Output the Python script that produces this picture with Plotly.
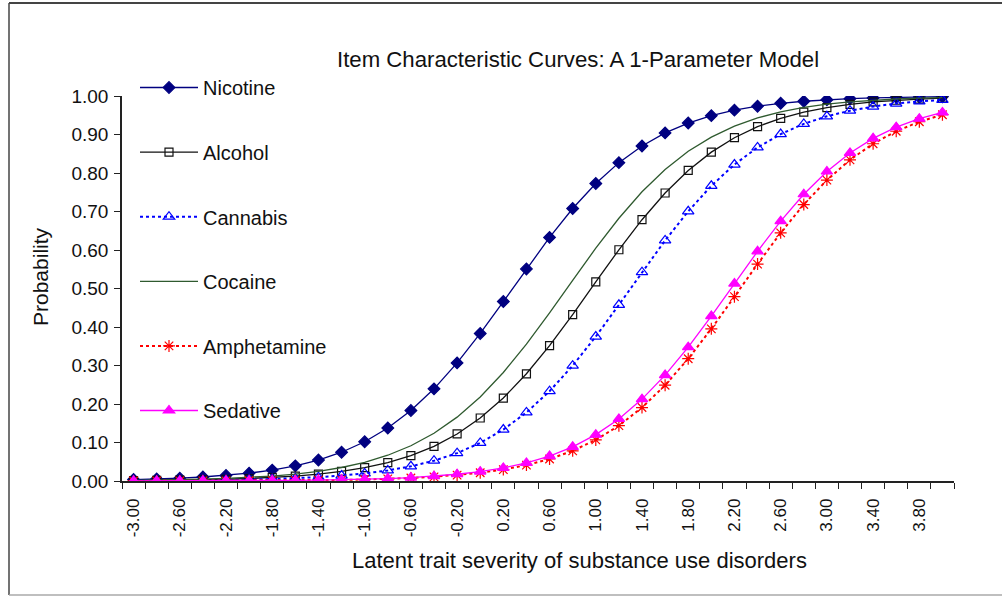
import plotly.graph_objects as go

# ---- data ----
theta = [-3.0, -2.8, -2.6, -2.4, -2.2, -2.0, -1.8, -1.6, -1.4, -1.2, -1.0, -0.8,
         -0.6, -0.4, -0.2, 0.0, 0.2, 0.4, 0.6, 0.8, 1.0, 1.2, 1.4, 1.6,
         1.8, 2.0, 2.2, 2.4, 2.6, 2.8, 3.0, 3.2, 3.4, 3.6, 3.8, 4.0]

tick_vals = [-3.0, -2.6, -2.2, -1.8, -1.4, -1.0, -0.6, -0.2, 0.2, 0.6, 1.0, 1.4,
             1.8, 2.2, 2.6, 3.0, 3.4, 3.8]
tick_text = ["-3.00", "-2.60", "-2.20", "-1.80", "-1.40", "-1.00", "-0.60", "-0.20",
             "0.20", "0.60", "1.00", "1.40", "1.80", "2.20", "2.60", "3.00", "3.40", "3.80"]

nicotine = [0.0038, 0.0053, 0.0074, 0.0104, 0.0145, 0.0203, 0.0283, 0.0393, 0.0544,
            0.0747, 0.1019, 0.1375, 0.1831, 0.2394, 0.3067, 0.3832, 0.4661, 0.5508,
            0.6327, 0.7077, 0.7728, 0.8269, 0.8703, 0.9041, 0.9298, 0.9490, 0.9632,
            0.9735, 0.9810, 0.9864, 0.9903, 0.9931, 0.9951, 0.9965, 0.9975, 0.9982]
alcohol = [0.0012, 0.0017, 0.0024, 0.0033, 0.0046, 0.0065, 0.0091, 0.0127, 0.0178,
           0.0248, 0.0345, 0.0478, 0.0659, 0.0901, 0.1222, 0.1636, 0.2155, 0.2785,
           0.3516, 0.4324, 0.5170, 0.6006, 0.6787, 0.7480, 0.8066, 0.8542, 0.8917,
           0.9204, 0.9420, 0.9580, 0.9698, 0.9783, 0.9845, 0.9889, 0.9921, 0.9943]
cannabis = [0.0007, 0.0009, 0.0013, 0.0019, 0.0026, 0.0037, 0.0051, 0.0072, 0.0101,
            0.0141, 0.0197, 0.0274, 0.0381, 0.0527, 0.0724, 0.0989, 0.1335, 0.1780,
            0.2333, 0.2995, 0.3752, 0.4576, 0.5424, 0.6248, 0.7005, 0.7667, 0.8220,
            0.8665, 0.9011, 0.9276, 0.9473, 0.9619, 0.9726, 0.9804, 0.9859, 0.9900]
cocaine = [0.0017, 0.0024, 0.0034, 0.0047, 0.0066, 0.0092, 0.0129, 0.0181, 0.0252,
           0.0351, 0.0486, 0.0669, 0.0915, 0.1240, 0.1659, 0.2184, 0.2819, 0.3555,
           0.4366, 0.5212, 0.6047, 0.6824, 0.7512, 0.8092, 0.8563, 0.8933, 0.9217,
           0.9430, 0.9587, 0.9703, 0.9787, 0.9847, 0.9891, 0.9922, 0.9944, 0.9960]
amphetamine = [0.0001, 0.0002, 0.0003, 0.0004, 0.0005, 0.0007, 0.0010, 0.0014, 0.0020,
               0.0028, 0.0040, 0.0056, 0.0078, 0.0109, 0.0153, 0.0214, 0.0297, 0.0413,
               0.0571, 0.0784, 0.1067, 0.1437, 0.1908, 0.2488, 0.3176, 0.3953, 0.4788,
               0.5634, 0.6445, 0.7181, 0.7816, 0.8341, 0.8760, 0.9085, 0.9331, 0.9514]
sedative = [0.0002, 0.0002, 0.0003, 0.0004, 0.0006, 0.0008, 0.0012, 0.0016, 0.0023,
            0.0032, 0.0046, 0.0064, 0.0089, 0.0125, 0.0175, 0.0244, 0.0339, 0.0470,
            0.0648, 0.0888, 0.1204, 0.1612, 0.2127, 0.2751, 0.3477, 0.4283, 0.5128,
            0.5965, 0.6750, 0.7448, 0.8039, 0.8521, 0.8900, 0.9192, 0.9411, 0.9574]

FONT = "Liberation Sans, Arial, sans-serif"

fig = go.Figure()

def add(name, y, color, dash, width, symbol=None, msize=9, mfill=None, mline=None):
    kw = dict(x=theta, y=y, name=name, legendgroup=name,
              line=dict(color=color, dash=dash, width=width))
    if symbol is None:
        kw["mode"] = "lines"
    else:
        kw["mode"] = "lines+markers"
        kw["marker"] = dict(symbol=symbol, size=msize,
                            color=mfill if mfill else color,
                            line=dict(color=mline if mline else color, width=1.2))
    fig.add_trace(go.Scatter(**kw))

add("Nicotine", nicotine, "#000080", "solid", 1.3, "diamond", 9)
add("Alcohol", alcohol, "#111111", "solid", 1.3, "square-open", 8)
add("Cannabis", cannabis, "#0000FF", "dot", 2, "triangle-up-open", 10)
add("Cocaine", cocaine, "#2F5A2F", "solid", 1.3)
add("Amphetamine", amphetamine, "#FF0000", "dot", 2, "asterisk-open", 10)
add("Sedative", sedative, "#FF00FF", "solid", 1.3, "triangle-up", 10)

L, R, T, B = 122, 48, 96, 115
W, H = 1002, 596
PW, PH = W - L - R, H - T - B

def px(X):
    return (X - L) / PW

def py(Y):
    return (H - B - Y) / PH

fig.update_layout(
    width=W, height=H,
    margin=dict(l=L, r=R, t=T, b=B, pad=0),
    paper_bgcolor="white", plot_bgcolor="white",
    font=dict(family=FONT, color="#111111"),
    showlegend=True,
    legend=dict(x=px(135), y=py(68), xanchor="left", yanchor="top",
                bgcolor="rgba(0,0,0,0)", font=dict(size=20, family=FONT),
                tracegroupgap=35.6, itemwidth=58, itemsizing="trace",
                maxheight=560),
    xaxis=dict(range=[-3.1, 4.1], showgrid=False, zeroline=False,
               showline=True, linecolor="#222222", linewidth=1.5,
               tickmode="array", tickvals=tick_vals, ticktext=tick_text,
               ticks="outside", ticklen=9, tickcolor="rgba(0,0,0,0)",
               tickangle=-90, tickfont=dict(size=17, family=FONT),
               minor=dict(tickmode="linear", tick0=-3.1, dtick=0.2, ticks="outside",
                          ticklen=6, tickwidth=1.3, tickcolor="#222222")),
    yaxis=dict(range=[0, 1], showgrid=False, zeroline=False,
               showline=True, linecolor="#222222", linewidth=1.5,
               tickmode="linear", tick0=0, dtick=0.1, tickformat=".2f",
               ticks="outside", ticklen=6, tickwidth=1.3, tickcolor="#222222",
               tickfont=dict(size=19, family=FONT), ticklabelstandoff=2),
    annotations=[
        dict(text="Item Characteristic Curves: A 1-Parameter Model",
             xref="paper", yref="paper", x=px(578), y=py(60),
             xanchor="center", yanchor="middle", showarrow=False,
             font=dict(size=22.2, family=FONT)),
        dict(text="Latent trait severity of substance use disorders",
             xref="paper", yref="paper", x=px(579), y=py(560),
             xanchor="center", yanchor="middle", showarrow=False,
             font=dict(size=22, family=FONT)),
        dict(text="Probability", textangle=-90,
             xref="paper", yref="paper", x=px(40), y=py(277),
             xanchor="center", yanchor="middle", showarrow=False,
             font=dict(size=21, family=FONT)),
    ],
    shapes=[
        dict(type="line", xref="paper", yref="paper", x0=px(9), x1=px(1010),
             y0=py(3), y1=py(3), line=dict(color="#444444", width=2)),
        dict(type="line", xref="paper", yref="paper", x0=px(9), x1=px(9),
             y0=py(3), y1=py(595), line=dict(color="#444444", width=1.5)),
        dict(type="line", xref="paper", yref="paper", x0=px(9), x1=px(1010),
             y0=py(595), y1=py(595), line=dict(color="#AAAAAA", width=1.5)),
    ],
)

fig.write_html("out.html", config={"displayModeBar": False},
               post_script="document.body.style.margin='0px';document.body.style.overflow='hidden';")
